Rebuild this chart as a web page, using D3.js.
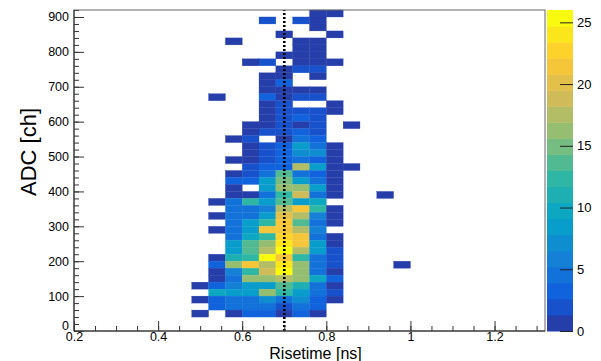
<!DOCTYPE html>
<html>
<head>
<meta charset="utf-8">
<script src="https://cdn.jsdelivr.net/npm/d3@7"></script>
<style>
  body { margin: 0; background: #fff; }
  svg text { font-family: "Liberation Sans", Arial, sans-serif; fill: #000; }
</style>
</head>
<body>
<div id="chart"></div>
<script>
// risetime bin low edges (ns), bin width 0.04
const risetimeBins = [0.48, 0.52, 0.56, 0.60, 0.64, 0.68, 0.72, 0.76, 0.80, 0.84, 0.88, 0.92, 0.96];
// ADC bin low edges (ch), bin width 20, top row first
const adcBins = [900, 880, 860, 840, 820, 800, 780, 760, 740, 720, 700, 680, 660, 640, 620, 600,
  580, 560, 540, 520, 500, 480, 460, 440, 420, 400, 380, 360, 340, 320, 300, 280, 260, 240,
  220, 200, 180, 160, 140, 120, 100, 80, 60, 40];
// entries per bin, one row per ADC bin
const counts = [
  [0, 0, 0, 0, 0, 0, 0, 1, 1, 0, 0, 0, 0],
  [0, 0, 0, 0, 2, 0, 2, 1, 0, 0, 0, 0, 0],
  [0, 0, 0, 0, 0, 0, 0, 1, 0, 0, 0, 0, 0],
  [0, 0, 0, 0, 0, 1, 0, 0, 1, 0, 0, 0, 0],
  [0, 0, 1, 0, 0, 0, 1, 1, 0, 0, 0, 0, 0],
  [0, 0, 0, 0, 0, 0, 1, 1, 0, 0, 0, 0, 0],
  [0, 0, 0, 0, 0, 1, 1, 1, 0, 0, 0, 0, 0],
  [0, 0, 0, 1, 2, 0, 1, 1, 1, 0, 0, 0, 0],
  [0, 0, 0, 0, 0, 1, 2, 2, 0, 0, 0, 0, 0],
  [0, 0, 0, 0, 1, 1, 0, 1, 0, 0, 0, 0, 0],
  [0, 0, 0, 0, 1, 3, 0, 0, 0, 0, 0, 0, 0],
  [0, 0, 0, 0, 1, 1, 1, 1, 0, 0, 0, 0, 0],
  [0, 1, 0, 0, 3, 1, 2, 2, 0, 0, 0, 0, 0],
  [0, 0, 0, 0, 1, 2, 0, 0, 1, 0, 0, 0, 0],
  [0, 0, 0, 0, 1, 2, 2, 2, 1, 0, 0, 0, 0],
  [0, 0, 0, 0, 1, 2, 3, 2, 0, 0, 0, 0, 0],
  [0, 0, 0, 1, 1, 2, 1, 2, 0, 1, 0, 0, 0],
  [0, 0, 0, 1, 2, 2, 3, 2, 0, 0, 0, 0, 0],
  [0, 0, 1, 2, 0, 1, 5, 3, 0, 0, 0, 0, 0],
  [0, 0, 0, 1, 2, 3, 9, 4, 1, 0, 0, 0, 0],
  [0, 0, 0, 1, 2, 3, 7, 7, 1, 0, 0, 0, 0],
  [0, 0, 1, 1, 2, 3, 4, 3, 1, 0, 0, 0, 0],
  [0, 0, 0, 2, 3, 3, 18, 8, 1, 1, 0, 0, 0],
  [0, 0, 1, 2, 4, 13, 4, 3, 1, 0, 0, 0, 0],
  [0, 0, 3, 3, 8, 15, 8, 4, 1, 0, 0, 0, 0],
  [0, 0, 1, 0, 8, 16, 16, 8, 1, 0, 0, 0, 0],
  [0, 0, 1, 1, 4, 12, 19, 4, 1, 0, 0, 1, 0],
  [0, 1, 4, 12, 8, 13, 8, 10, 0, 0, 0, 0, 0],
  [0, 0, 4, 4, 6, 18, 22, 12, 1, 0, 0, 0, 0],
  [0, 1, 4, 4, 8, 20, 18, 6, 1, 0, 0, 0, 0],
  [0, 0, 4, 8, 12, 21, 14, 4, 1, 0, 0, 0, 0],
  [0, 1, 4, 8, 21, 22, 18, 6, 0, 0, 0, 0, 0],
  [0, 0, 4, 10, 12, 23, 22, 4, 1, 0, 0, 0, 0],
  [0, 0, 8, 14, 16, 24, 22, 8, 1, 0, 0, 0, 0],
  [0, 0, 8, 14, 18, 25, 18, 8, 2, 0, 0, 0, 0],
  [0, 1, 11, 12, 26, 21, 12, 4, 2, 0, 0, 0, 0],
  [0, 3, 16, 21, 18, 24, 16, 4, 2, 0, 0, 0, 1],
  [0, 1, 6, 12, 19, 25, 16, 4, 1, 0, 0, 0, 0],
  [0, 1, 5, 16, 16, 18, 16, 10, 3, 0, 0, 0, 0],
  [1, 3, 6, 8, 8, 14, 11, 4, 1, 0, 0, 0, 0],
  [0, 10, 8, 8, 16, 12, 8, 4, 2, 0, 0, 0, 0],
  [1, 3, 4, 4, 7, 4, 7, 3, 1, 0, 0, 0, 0],
  [0, 3, 5, 4, 4, 2, 4, 3, 0, 0, 0, 0, 0],
  [1, 0, 1, 3, 3, 1, 3, 1, 0, 0, 0, 0, 0]
];
const binW = 0.04, binH = 20;
const cutValue = 0.7;  // dotted line
const xTicks = [0.2, 0.4, 0.6, 0.8, 1.0, 1.2];
const yTicks = [0, 100, 200, 300, 400, 500, 600, 700, 800, 900];
const zTicks = [0, 5, 10, 15, 20, 25];
const zMax = 26, nLevels = 20;

// ROOT kBird palette
const birdStops = [0, 0.125, 0.25, 0.375, 0.5, 0.625, 0.75, 0.875, 1];
const birdR = [0.2082, 0.0592, 0.0780, 0.0232, 0.1802, 0.5301, 0.8186, 0.9956, 0.9764];
const birdG = [0.1664, 0.3599, 0.5041, 0.6419, 0.7178, 0.7492, 0.7328, 0.7862, 0.9832];
const birdB = [0.5293, 0.8684, 0.8385, 0.7914, 0.6425, 0.4662, 0.3499, 0.1968, 0.0539];

const W = 601, H = 361;
const mLeft = 74, mRight = 545, mTop = 10, mBottom = 331;
const barX0 = 547, barX1 = 573;

const palette = d3.scaleLinear()
  .domain(birdStops)
  .range(birdStops.map((s, i) => d3.rgb(birdR[i] * 255, birdG[i] * 255, birdB[i] * 255)))
  .interpolate(d3.interpolateRgb);

function levelColor(level) {
  return palette(Math.min(1, (level + 0.99) / nLevels));
}
function countColor(c) {
  const level = Math.min(nLevels - 1, Math.floor(c / zMax * nLevels));
  return levelColor(level);
}

const svg = d3.select('#chart').append('svg')
  .attr('width', W)
  .attr('height', H);

const x = d3.scaleLinear().domain([0.2, 1.32]).range([mLeft, mRight]);
const y = d3.scaleLinear().domain([0, 920]).range([mBottom, mTop]);
const z = d3.scaleLinear().domain([0, zMax]).range([mBottom, mTop]);

// cells
const cells = [];
adcBins.forEach((adc, r) => {
  risetimeBins.forEach((rt, c) => {
    const n = counts[r][c];
    if (n > 0) cells.push({ rt, adc, n });
  });
});

svg.append('g').selectAll('rect')
  .data(cells)
  .enter()
  .append('rect')
  .attr('x', d => x(d.rt))
  .attr('y', d => y(d.adc + binH))
  .attr('width', d => x(d.rt + binW) - x(d.rt))
  .attr('height', d => y(d.adc) - y(d.adc + binH))
  .attr('fill', d => countColor(d.n))
  .attr('stroke', d => countColor(d.n))
  .attr('stroke-width', 0.3);

// dotted cut line
svg.append('line')
  .attr('x1', x(cutValue)).attr('x2', x(cutValue))
  .attr('y1', y(0)).attr('y2', y(920))
  .attr('stroke', '#000')
  .attr('stroke-width', 2.6)
  .attr('stroke-dasharray', '2,2');

// x axis: major + minor ticks drawn inward
const xMinor = d3.range(0.2, 1.3201, 0.05).map(v => +v.toFixed(2));
svg.append('g')
  .attr('transform', `translate(0,${mBottom})`)
  .call(d3.axisBottom(x).tickValues(xMinor).tickSize(-5).tickFormat(''))
  .call(g => g.select('.domain').remove());
svg.append('g')
  .attr('transform', `translate(0,${mBottom})`)
  .call(d3.axisBottom(x).tickValues(xTicks).tickSize(-10).tickPadding(1).tickFormat(d => d3.format('~g')(d)))
  .call(g => g.select('.domain').remove())
  .selectAll('text').attr('font-size', 12.5);

// y axis
const yMinor = d3.range(0, 921, 20);
svg.append('g')
  .attr('transform', `translate(${mLeft},0)`)
  .call(d3.axisLeft(y).tickValues(yMinor).tickSize(-5).tickFormat(''))
  .call(g => g.select('.domain').remove());
svg.append('g')
  .attr('transform', `translate(${mLeft},0)`)
  .call(d3.axisLeft(y).tickValues(yTicks).tickSize(-10).tickPadding(5))
  .call(g => g.select('.domain').remove())
  .selectAll('text')
  .attr('font-size', 12.5)
  .attr('dy', d => d === 0 ? '-0.15em' : '0.32em');

svg.selectAll('.tick line').attr('stroke', '#333');

// frame
svg.append('rect')
  .attr('x', mLeft).attr('y', mTop)
  .attr('width', mRight - mLeft).attr('height', mBottom - mTop)
  .attr('fill', 'none')
  .attr('stroke', '#666')
  .attr('stroke-width', 1);
svg.append('line')
  .attr('x1', mLeft).attr('x2', mRight).attr('y1', mBottom).attr('y2', mBottom)
  .attr('stroke', '#222');
svg.append('line')
  .attr('x1', mLeft).attr('x2', mLeft).attr('y1', mTop).attr('y2', mBottom)
  .attr('stroke', '#222');

// titles
svg.append('text')
  .attr('x', (mLeft + mRight) / 2 + 6)
  .attr('y', 359)
  .attr('text-anchor', 'middle')
  .attr('font-size', 16)
  .text('Risetime [ns]');
svg.append('text')
  .attr('transform', `translate(36,152) rotate(-90)`)
  .attr('text-anchor', 'middle')
  .attr('font-size', 22)
  .text('ADC [ch]');

// colour bar
const levels = d3.range(nLevels);
svg.append('g').selectAll('rect')
  .data(levels)
  .enter()
  .append('rect')
  .attr('x', barX0)
  .attr('y', d => z((d + 1) * zMax / nLevels))
  .attr('width', barX1 - barX0)
  .attr('height', d => z(d * zMax / nLevels) - z((d + 1) * zMax / nLevels) + 0.5)
  .attr('fill', d => levelColor(d));

svg.append('g')
  .attr('transform', `translate(${barX1},0)`)
  .call(d3.axisRight(z).tickValues(zTicks).tickSize(-13).tickPadding(4))
  .call(g => g.select('.domain').remove())
  .call(g => g.selectAll('line').attr('stroke', '#222'))
  .selectAll('text').attr('font-size', 13);
</script>
</body>
</html>
